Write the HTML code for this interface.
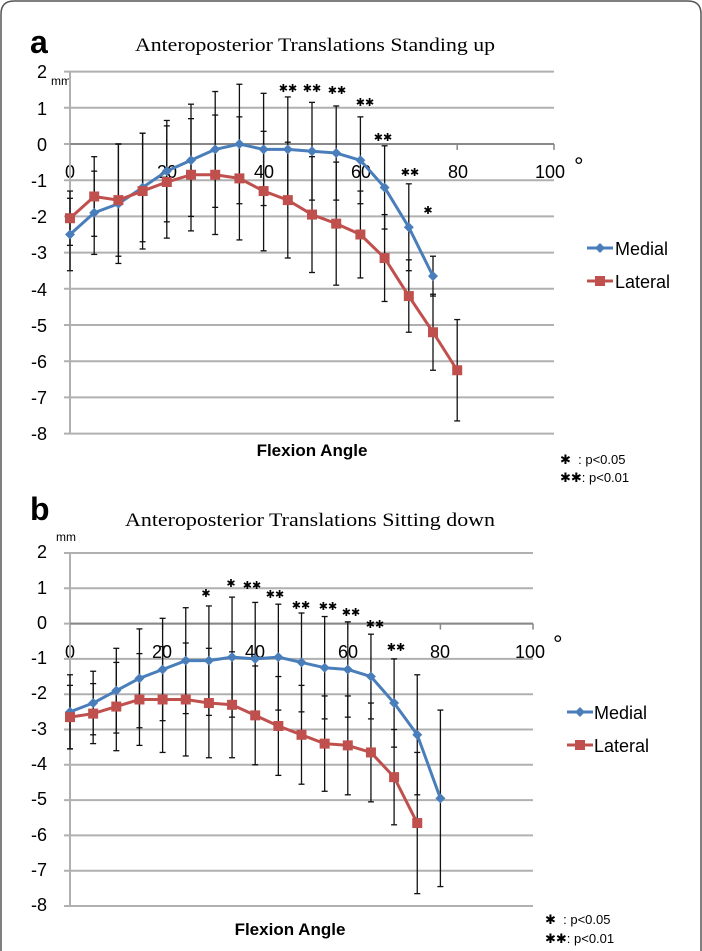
<!DOCTYPE html>
<html><head><meta charset="utf-8"><style>
html,body{margin:0;padding:0;background:#fff;width:702px;height:951px;overflow:hidden}
svg{display:block}
.t{font-family:"Liberation Serif",serif;font-size:19px;fill:#000}
.s{font-family:"Liberation Sans",sans-serif;fill:#000}
</style></head><body>
<svg id="c" width="702" height="951" viewBox="0 0 702 951" xmlns="http://www.w3.org/2000/svg">
<path d="M1,951 V14 Q1,1 14,1 H688 Q701,1 701,14 V951" fill="none" stroke="#555" stroke-width="1.5"/>
<text class="s" x="30" y="53" font-size="32" font-weight="bold">a</text>
<text class="t" x="315" y="51" text-anchor="middle" textLength="360" lengthAdjust="spacingAndGlyphs">Anteroposterior Translations Standing up</text>
<text class="s" x="51" y="85" font-size="12">mm</text>
<g class="s" font-size="18" text-anchor="end">
<text x="47" y="78">2</text><text x="47" y="115">1</text><text x="47" y="151">0</text><text x="47" y="187">-1</text><text x="47" y="223">-2</text><text x="47" y="259">-3</text><text x="47" y="296">-4</text><text x="47" y="332">-5</text><text x="47" y="368">-6</text><text x="47" y="404">-7</text><text x="47" y="440">-8</text>
</g>
<g class="s" font-size="18" text-anchor="middle">
<text x="70" y="178">0</text><text x="167" y="178">20</text><text x="264" y="178">40</text><text x="361" y="178">60</text><text x="458" y="178">80</text><text x="550" y="178">100</text>
</g>
<text class="s" x="574" y="174" font-size="24">°</text>
<text class="s" x="312" y="456" font-size="17" font-weight="bold" text-anchor="middle">Flexion Angle</text>
<text class="s" x="560" y="464" font-size="13">✱ &#160;: p&lt;0.05</text>
<text class="s" x="560" y="482" font-size="13">✱✱: p&lt;0.01</text>
<text class="s" x="615" y="255" font-size="18">Medial</text>
<text class="s" x="615" y="288" font-size="18">Lateral</text>

<text class="s" x="30" y="520" font-size="32" font-weight="bold">b</text>
<text class="t" x="310" y="526" text-anchor="middle" textLength="370" lengthAdjust="spacingAndGlyphs">Anteroposterior Translations Sitting down</text>
<text class="s" x="56" y="541" font-size="12">mm</text>
<g class="s" font-size="18" text-anchor="end">
<text x="47" y="558">2</text><text x="47" y="594">1</text><text x="47" y="629">0</text><text x="47" y="664">-1</text><text x="47" y="699">-2</text><text x="47" y="735">-3</text><text x="47" y="770">-4</text><text x="47" y="805">-5</text><text x="47" y="841">-6</text><text x="47" y="876">-7</text><text x="47" y="911">-8</text>
</g>
<g class="s" font-size="18" text-anchor="middle">
<text x="70" y="658">0</text><text x="162" y="658">20</text><text x="255" y="658">40</text><text x="348" y="658">60</text><text x="440" y="658">80</text><text x="530" y="658">100</text>
</g>
<text class="s" x="553" y="652" font-size="24">°</text>
<text class="s" x="290" y="935" font-size="17" font-weight="bold" text-anchor="middle">Flexion Angle</text>
<text class="s" x="545" y="924" font-size="13">✱ &#160;: p&lt;0.05</text>
<text class="s" x="545" y="943" font-size="13">✱✱: p&lt;0.01</text>
<text class="s" x="594" y="719" font-size="18">Medial</text>
<text class="s" x="594" y="752" font-size="18">Lateral</text>

<g class="s" font-size="11" text-anchor="middle" id="stars">
<text x="288" y="92">✱✱</text><text x="312" y="92">✱✱</text><text x="337" y="94">✱✱</text><text x="365" y="106">✱✱</text><text x="383" y="141">✱✱</text><text x="410" y="176">✱✱</text><text x="428" y="214">✱</text>
<text x="206" y="597">✱</text><text x="231" y="587">✱</text><text x="252" y="589">✱✱</text><text x="275" y="598">✱✱</text><text x="301" y="609">✱✱</text><text x="328" y="610">✱✱</text><text x="351" y="616">✱✱</text><text x="375" y="628">✱✱</text><text x="396" y="651">✱✱</text>
</g>
</svg>
<script>
var svg=document.getElementById('c'),NS='http://www.w3.org/2000/svg';
function el(n,a){var e=document.createElementNS(NS,n);for(var k in a)e.setAttribute(k,a[k]);svg.insertBefore(e,document.getElementById('stars'));return e;}
function chart(o){
 var X=function(d){return o.x0+d*o.sx},Y=function(v){return o.y0-v*o.sy};
 for(var v=2;v>=-8;v--){el('line',{x1:o.x0-6,x2:o.xe,y1:Y(v),y2:Y(v),stroke:'#b0b0b0','stroke-width':2});}
 el('line',{x1:o.x0,x2:o.x0,y1:Y(2),y2:Y(-8),stroke:'#b0b0b0','stroke-width':2});
 el('line',{x1:o.x0,x2:o.xe,y1:Y(0),y2:Y(0),stroke:'#888','stroke-width':2});
 for(var d=20;d<=100;d+=20)el('line',{x1:X(d),x2:X(d),y1:Y(0),y2:Y(0)+6,stroke:'#888','stroke-width':1.5});
 o.series.forEach(function(s){
  s.v.forEach(function(v,i){var x=X(i*5),a=Y(v+s.sd[i]),b=Y(v-s.sd[i]);
   el('line',{x1:x,x2:x,y1:a,y2:b,stroke:'#111','stroke-width':1.3});
   el('line',{x1:x-3,x2:x+3,y1:a,y2:a,stroke:'#111','stroke-width':1.3});
   el('line',{x1:x-3,x2:x+3,y1:b,y2:b,stroke:'#111','stroke-width':1.3});});
 });
 o.series.forEach(function(s){
  var p=s.v.map(function(v,i){return X(i*5)+','+Y(v)}).join(' ');
  el('polyline',{points:p,fill:'none',stroke:s.c,'stroke-width':3,'stroke-linejoin':'round'});
  s.v.forEach(function(v,i){var x=X(i*5),y=Y(v);
   if(s.m=='d')el('polygon',{points:(x)+','+(y-5)+' '+(x+5)+','+y+' '+x+','+(y+5)+' '+(x-5)+','+y,fill:s.c});
   else el('rect',{x:x-5,y:y-5,width:10,height:10,fill:s.c});});
  var ly=s.ly;el('line',{x1:o.lx,x2:o.lx+26,y1:ly,y2:ly,stroke:s.c,'stroke-width':3});
  var x=o.lx+13;
  if(s.m=='d')el('polygon',{points:x+','+(ly-5)+' '+(x+5)+','+ly+' '+x+','+(ly+5)+' '+(x-5)+','+ly,fill:s.c});
  else el('rect',{x:x-5,y:ly-5,width:10,height:10,fill:s.c});
 });
}
var B='#4a7ebb',R='#c0504d';
chart({x0:70,sx:4.84,y0:144,sy:36.2,xe:554,lx:587,series:[
 {c:B,m:'d',ly:248,v:[-2.5,-1.9,-1.65,-1.2,-0.75,-0.45,-0.15,0,-0.15,-0.15,-0.2,-0.25,-0.45,-1.2,-2.3,-3.65],sd:[1.0,1.15,1.65,1.5,1.4,1.55,1.6,1.65,1.55,1.45,1.35,1.3,1.2,1.15,1.2,0.55]},
 {c:R,m:'s',ly:281,v:[-2.05,-1.45,-1.55,-1.3,-1.05,-0.85,-0.85,-0.95,-1.3,-1.55,-1.95,-2.2,-2.5,-3.15,-4.2,-5.2,-6.25],sd:[0.75,1.1,1.55,1.6,1.55,1.55,1.65,1.7,1.65,1.6,1.6,1.7,1.2,1.2,1.0,1.05,1.4]}]});
chart({x0:70,sx:4.63,y0:623.6,sy:35.3,xe:533,lx:567,series:[
 {c:B,m:'d',ly:712,v:[-2.5,-2.25,-1.9,-1.55,-1.3,-1.05,-1.05,-0.95,-1.0,-0.95,-1.1,-1.25,-1.3,-1.5,-2.25,-3.15,-4.95],sd:[1.05,0.9,1.2,1.4,1.45,1.5,1.55,1.7,1.6,1.5,1.4,1.45,1.35,1.2,1.25,1.7,2.5]},
 {c:R,m:'s',ly:745,v:[-2.65,-2.55,-2.35,-2.15,-2.15,-2.15,-2.25,-2.3,-2.6,-2.9,-3.15,-3.4,-3.45,-3.65,-4.35,-5.65],sd:[0.9,0.85,1.25,1.3,1.5,1.6,1.55,1.5,1.4,1.4,1.4,1.35,1.4,1.4,1.35,2.0]}]});
</script>
</body></html>
